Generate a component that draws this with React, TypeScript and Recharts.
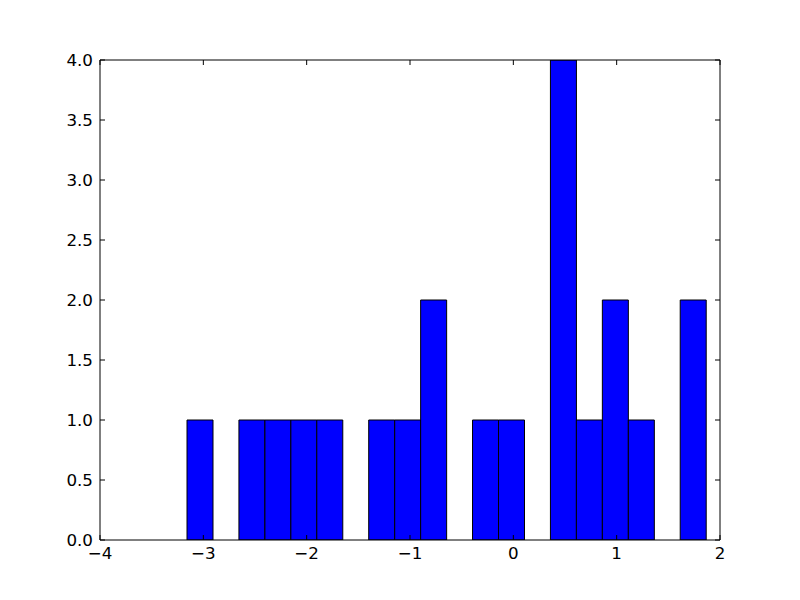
import { BarChart, Bar, XAxis, YAxis } from 'recharts'

// histogram bin edges (20 bins) and counts
const binEdges = [
  -3.158, -2.907, -2.656, -2.404, -2.153, -1.902, -1.651, -1.4, -1.148, -0.897,
  -0.646, -0.395, -0.144, 0.108, 0.359, 0.61, 0.861, 1.113, 1.364, 1.615, 1.866
]
const counts = [1, 0, 1, 1, 1, 1, 0, 1, 1, 2, 0, 1, 1, 0, 4, 1, 2, 1, 0, 2]

const xTicks = [-4, -3, -2, -1, 0, 1, 2]
const yTicks = [0, 0.5, 1, 1.5, 2, 2.5, 3, 3.5, 4]

const data = counts.map((count, i) => ({
  center: (binEdges[i] + binEdges[i + 1]) / 2,
  count
}))

const font = { fontFamily: 'DejaVu Sans', fontSize: 16.7, fill: '#000' }
const TICK = 5

const fmtX = (v: number) => (v < 0 ? '\u2212' + Math.abs(v) : String(v))

const BottomTick = ({ x, y, payload }: any) => (
  <g>
    <line x1={x} x2={x} y1={y} y2={y - TICK} stroke="#000" />
    <text x={x} y={y + 19} textAnchor="middle" {...font}>{fmtX(payload.value)}</text>
  </g>
)

const TopTick = ({ x, y }: any) => (
  <line x1={x} x2={x} y1={y} y2={y + TICK} stroke="#000" />
)

const LeftTick = ({ x, y, payload }: any) => (
  <g>
    <line x1={x} x2={x + TICK} y1={y} y2={y} stroke="#000" />
    <text x={x - 7} y={y + 6} textAnchor="end" {...font}>{payload.value.toFixed(1)}</text>
  </g>
)

const RightTick = ({ x, y }: any) => (
  <line x1={x - TICK} x2={x} y1={y} y2={y} stroke="#000" />
)

export default function App() {
  return (
    <div style={{ position: 'absolute', left: 0, top: 0, background: '#fff' }}>
      <BarChart
        width={800}
        height={600}
        data={data}
        barCategoryGap={0}
        barGap={0}
        margin={{ top: 50, right: 70, bottom: 30, left: 60 }}
      >
        <XAxis
          xAxisId="bottom"
          dataKey="center"
          type="number"
          domain={[-4, 2]}
          ticks={xTicks}
          allowDataOverflow
          height={30}
          tickSize={0}
          tickMargin={0}
          tickLine={false}
          axisLine={{ stroke: '#000' }}
          tick={<BottomTick />}
        />
        <XAxis
          xAxisId="top"
          orientation="top"
          dataKey="center"
          type="number"
          domain={[-4, 2]}
          ticks={xTicks}
          allowDataOverflow
          height={10}
          tickSize={0}
          tickMargin={0}
          tickLine={false}
          axisLine={{ stroke: '#000' }}
          tick={<TopTick />}
        />
        <YAxis
          yAxisId="left"
          type="number"
          domain={[0, 4]}
          ticks={yTicks}
          allowDataOverflow
          width={40}
          tickSize={0}
          tickMargin={0}
          tickLine={false}
          axisLine={{ stroke: '#000' }}
          tick={<LeftTick />}
        />
        <YAxis
          yAxisId="right"
          orientation="right"
          type="number"
          domain={[0, 4]}
          ticks={yTicks}
          allowDataOverflow
          width={10}
          tickSize={0}
          tickMargin={0}
          tickLine={false}
          axisLine={{ stroke: '#000' }}
          tick={<RightTick />}
        />
        <Bar
          xAxisId="bottom"
          yAxisId="left"
          dataKey="count"
          fill="#0000ff"
          stroke="#000"
          strokeWidth={1}
          isAnimationActive={false}
        />
      </BarChart>
    </div>
  )
}
